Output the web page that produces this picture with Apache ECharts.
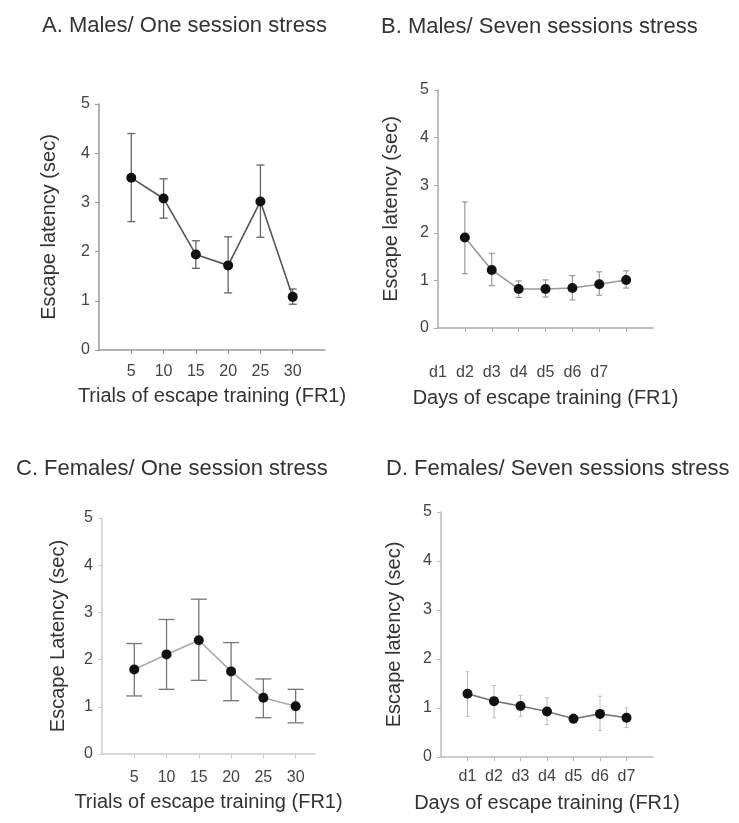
<!DOCTYPE html>
<html><head><meta charset="utf-8">
<script src="https://cdn.jsdelivr.net/npm/echarts@6/dist/echarts.min.js"></script>
<style>html,body{margin:0;padding:0;background:#fff}#c{width:739px;height:823px}</style>
</head><body><div id="c"></div>
<script>
var trialsX = [5, 10, 15, 20, 25, 30];
var daysX = [1, 2, 3, 4, 5, 6, 7];
var dayLabels = ['d1', 'd2', 'd3', 'd4', 'd5', 'd6', 'd7'];
var yTicks = [0, 1, 2, 3, 4, 5];

var A_mean  = [3.50, 3.08, 1.94, 1.72, 3.02, 1.08];
var A_upper = [4.40, 3.48, 2.22, 2.30, 3.76, 1.24];
var A_lower = [2.61, 2.68, 1.66, 1.16, 2.29, 0.93];

var B_mean  = [1.90, 1.22, 0.82, 0.82, 0.84, 0.92, 1.01];
var B_upper = [2.65, 1.57, 0.99, 1.01, 1.10, 1.18, 1.20];
var B_lower = [1.14, 0.89, 0.64, 0.65, 0.59, 0.69, 0.84];

var C_mean  = [1.79, 2.11, 2.41, 1.75, 1.19, 1.01];
var C_upper = [2.34, 2.85, 3.28, 2.36, 1.59, 1.37];
var C_lower = [1.23, 1.37, 1.56, 1.13, 0.77, 0.66];

var D_mean  = [1.29, 1.14, 1.04, 0.93, 0.78, 0.88, 0.80];
var D_upper = [1.74, 1.46, 1.26, 1.21, 0.88, 1.24, 1.00];
var D_lower = [0.83, 0.80, 0.83, 0.66, 0.68, 0.54, 0.60];

var FONT = 'Liberation Sans, Arial, sans-serif';

function zip2(xs, ys) { return xs.map(function (x, i) { return [x, ys[i]]; }); }
function zip3(xs, lo, hi) { return xs.map(function (x, i) { return [x, lo[i], hi[i]]; }); }

function errSeries(idx, data, color, cap, width) {
  return {
    type: 'custom', xAxisIndex: idx, yAxisIndex: idx, z: 1,
    data: data,
    renderItem: function (params, api) {
      var x = api.value(0);
      var p1 = api.coord([x, api.value(1)]);
      var p2 = api.coord([x, api.value(2)]);
      var st = { stroke: color, lineWidth: width };
      return {
        type: 'group', children: [
          { type: 'line', shape: { x1: p1[0], y1: p1[1], x2: p2[0], y2: p2[1] }, style: st },
          { type: 'line', shape: { x1: p1[0] - cap, y1: p1[1], x2: p1[0] + cap, y2: p1[1] }, style: st },
          { type: 'line', shape: { x1: p2[0] - cap, y1: p2[1], x2: p2[0] + cap, y2: p2[1] }, style: st }
        ]
      };
    }
  };
}
function lineSeries(idx, data, color) {
  return {
    type: 'line', xAxisIndex: idx, yAxisIndex: idx, z: 3, data: data,
    symbol: 'circle', symbolSize: 10,
    itemStyle: { color: '#111' },
    lineStyle: { color: color, width: 1.6 },
    animation: false
  };
}
function yAxis(idx, name, axisColor, nameGap) {
  return {
    type: 'value', gridIndex: idx, min: 0, max: 5, interval: 1,
    name: name, nameLocation: 'middle', nameRotate: 90, nameGap: nameGap,
    nameTextStyle: { fontFamily: FONT, fontSize: 20, color: '#333' },
    axisLine: { show: true, lineStyle: { color: axisColor, width: 1.5 } },
    axisTick: { show: true, length: 4, lineStyle: { color: axisColor } },
    axisLabel: { fontFamily: FONT, fontSize: 16, color: '#444', margin: 9 },
    splitLine: { show: false }
  };
}
function xAxis(idx, max, tickVals, labelVals, fmt, name, axisColor, labelMargin, nameGap) {
  return {
    type: 'value', gridIndex: idx, min: 0, max: max,
    name: name, nameLocation: 'middle', nameGap: nameGap,
    nameTextStyle: { fontFamily: FONT, fontSize: 20, color: '#333' },
    axisLine: { show: true, onZero: false, lineStyle: { color: axisColor, width: 1.5 } },
    axisTick: { show: true, length: 4, customValues: tickVals, lineStyle: { color: axisColor } },
    axisLabel: { fontFamily: FONT, fontSize: 16, color: '#444', margin: labelMargin,
      customValues: labelVals, formatter: fmt },
    splitLine: { show: false }
  };
}

var titleStyle = { fontFamily: FONT, fontSize: 22, fontWeight: 'normal', color: '#333' };

var option = {
  backgroundColor: '#fff',
  animation: false,
  title: [
    { text: 'A. Males/ One session stress', left: 37, top: 10, textStyle: titleStyle },
    { text: 'B. Males/ Seven sessions stress', left: 376, top: 11, textStyle: titleStyle },
    { text: 'C. Females/ One session stress', left: 11, top: 453, textStyle: titleStyle },
    { text: 'D. Females/ Seven sessions stress', left: 381, top: 453, textStyle: titleStyle }
  ],
  grid: [
    { left: 99, top: 104, width: 226, height: 246 },
    { left: 438, top: 90, width: 215, height: 238 },
    { left: 102, top: 518, width: 213, height: 236 },
    { left: 441, top: 512, width: 212, height: 245 }
  ],
  xAxis: [
    xAxis(0, 35, trialsX, trialsX, function (v) { return String(v); },
      'Trials of escape training (FR1)', '#999', 14, 36),
    xAxis(1, 8, daysX, [0, 1, 2, 3, 4, 5, 6], function (v) { return dayLabels[v]; },
      'Days of escape training (FR1)', '#aaa', 37, 60),
    xAxis(2, 33, trialsX, trialsX, function (v) { return String(v); },
      'Trials of escape training (FR1)', '#ccc', 16, 38),
    xAxis(3, 8, daysX, daysX, function (v) { return dayLabels[v - 1]; },
      'Days of escape training (FR1)', '#bbb', 12, 36)
  ],
  yAxis: [
    yAxis(0, 'Escape latency (sec)', '#999', 40),
    yAxis(1, 'Escape latency (sec)', '#aaa', 37),
    yAxis(2, 'Escape Latency (sec)', '#ccc', 34),
    yAxis(3, 'Escape latency (sec)', '#bbb', 37)
  ],
  series: [
    errSeries(0, zip3(trialsX, A_lower, A_upper), '#666', 4, 1.3),
    lineSeries(0, zip2(trialsX, A_mean), '#555'),
    errSeries(1, zip3(daysX, B_lower, B_upper), '#888', 3, 1),
    lineSeries(1, zip2(daysX, B_mean), '#999'),
    errSeries(2, zip3(trialsX, C_lower, C_upper), '#777', 8, 1.3),
    lineSeries(2, zip2(trialsX, C_mean), '#aaa'),
    errSeries(3, zip3(daysX, D_lower, D_upper), '#bbb', 2, 1),
    lineSeries(3, zip2(daysX, D_mean), '#777')
  ]
};
var chart = echarts.init(document.getElementById('c'), null, { renderer: 'canvas' });
chart.setOption(option);
</script></body></html>
